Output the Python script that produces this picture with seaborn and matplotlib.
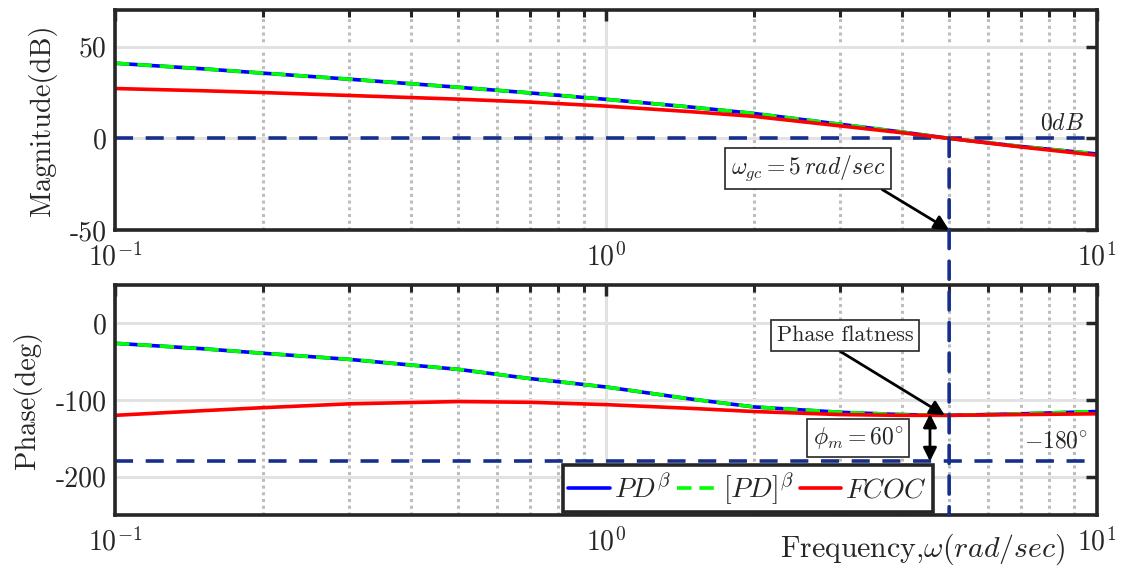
import matplotlib
matplotlib.use("Agg")
import matplotlib.pyplot as plt
from matplotlib.patches import ConnectionPatch
import seaborn as sns
import numpy as np

# ---------------- data ----------------
freq = [0.1, 0.15, 0.2, 0.3, 0.5, 0.7, 1.0, 1.5, 2.0, 3.0, 4.0, 5.0, 7.0, 10.0]

mag_pd = [41.0, 38.0, 35.6, 32.3, 27.9, 24.8, 21.3, 17.0, 13.6, 7.7, 3.5, 0.0, -4.4, -8.5]
mag_pdb = [41.0, 38.0, 35.6, 32.3, 27.9, 24.8, 21.3, 17.0, 13.6, 7.7, 3.5, 0.0, -4.4, -8.5]
mag_fcoc = [27.2, 26.0, 25.0, 23.4, 21.4, 19.8, 17.6, 14.5, 12.0, 6.8, 3.1, 0.0, -4.7, -9.2]

phase_pd = [-26, -33, -39, -47, -60, -72, -83, -99, -109, -116, -119, -120, -118, -115]
phase_pdb = [-26, -33, -39, -47, -60, -72, -83, -99, -109, -116, -119, -120, -118, -115]
phase_fcoc = [-120, -114, -110, -105, -102, -103, -106, -111, -115, -119, -120, -120, -119, -118]

series_labels = [r'$PD^{\beta}$', r'$[PD]^{\beta}$', r'$FCOC$']
series_colors = ['#0000ff', '#00ff00', '#ff0000']

mag_ticks = [-50, 0, 50]
mag_ticklabels = ['-50', '0', '50']
phase_ticks = [-200, -100, 0]
phase_ticklabels = ['-200', '-100', '0']
x_ticks = [0.1, 1, 10]
x_ticklabels = [r'$10^{-1}$', r'$10^{0}$', r'$10^{1}$']

w_gc = 5.0
pm_level = -180

# ---------------- style ----------------
sns.set_theme(style="white")
plt.rcParams['font.family'] = ['cmr10', 'DejaVu Serif']
plt.rcParams['mathtext.fontset'] = 'cm'
plt.rcParams['axes.unicode_minus'] = False
plt.rcParams['axes.formatter.use_mathtext'] = True

navy = '#172f8c'
spine_c = '#262626'

fig = plt.figure(figsize=(11.23, 5.68), dpi=100)
ax1 = fig.add_axes([0.1024, 0.595, 0.8744, 0.3873])
ax2 = fig.add_axes([0.1024, 0.0933, 0.8744, 0.4049])


def draw(ax, ys):
    for y, c, lab, i in zip(ys, series_colors, series_labels, range(3)):
        sns.lineplot(x=freq, y=y, ax=ax, color=c, lw=2.6, label=lab,
                     sort=True, legend=False, zorder=5 + (1 if i == 1 else 0))
        ln = ax.get_lines()[-1]
        if i == 1:
            ln.set_linestyle((0, (4, 2.2)))
            ln.set_zorder(6)
        if i == 2:
            ln.set_zorder(7)


draw(ax1, [mag_pd, mag_pdb, mag_fcoc])
draw(ax2, [phase_pd, phase_pdb, phase_fcoc])

for ax, yl, yt, ytl in [(ax1, (-50, 70), mag_ticks, mag_ticklabels),
                        (ax2, (-250, 50), phase_ticks, phase_ticklabels)]:
    ax.set_xscale('log')
    ax.set_xlim(0.1, 10)
    ax.set_ylim(*yl)
    ax.set_yticks(yt)
    ax.set_yticklabels(ytl)
    ax.set_xticks(x_ticks)
    ax.set_xticklabels(x_ticklabels)
    ax.xaxis.set_minor_locator(matplotlib.ticker.LogLocator(base=10, subs=np.arange(2, 10)))
    ax.xaxis.set_minor_formatter(matplotlib.ticker.NullFormatter())
    ax.set_axisbelow(True)
    ax.grid(which='major', axis='both', color='#e2e2e2', lw=2.2, ls='-')
    ax.grid(which='minor', axis='x', color='#bdbdbd', lw=2.2, ls=(0, (1, 1.2)))
    ax.tick_params(which='major', direction='in', top=True, right=True, length=8,
                   width=2.5, color=spine_c, labelsize=20, pad=6, labelcolor='#262626')
    ax.tick_params(which='minor', direction='in', top=True, right=True, length=5,
                   width=2.2, color=spine_c)
    ax.tick_params(axis='x', which='major', pad=9)
    for s in ax.spines.values():
        s.set_color(spine_c)
        s.set_linewidth(2.6)
        s.set_visible(True)
        s.set_zorder(10)
    ax.set_facecolor('white')

ax1.set_ylabel('Magnitude(dB)', fontsize=20.5, color='#262626')
ax2.set_ylabel('Phase(deg)', fontsize=20.5, color='#262626')
ax1.yaxis.set_label_coords(-0.059, 0.5)
ax2.yaxis.set_label_coords(-0.074, 0.5)
ax1.set_xlabel('')
ax2.set_xlabel(r'Frequency,$\omega(rad/sec)$', fontsize=21.5, color='#262626')
ax2.xaxis.set_label_coords(0.968, -0.072)
ax2.xaxis.label.set_ha('right')

# reference dashed lines
ax1.axhline(0, color=navy, lw=2.6, ls=(0, (5, 3.5)), zorder=4)
ax2.axhline(pm_level, color=navy, lw=2.6, ls=(0, (5, 3.5)), zorder=4)
con = ConnectionPatch(xyA=(w_gc, 0), coordsA=ax1.transData,
                      xyB=(w_gc, -250), coordsB=ax2.transData,
                      color=navy, lw=2.6, ls=(0, (5, 3.5)), zorder=3)
fig.add_artist(con)

# texts
ax1.text(9.4, 8.0, r'$0dB$', fontsize=17, ha='right', va='center', color='#262626')
ax2.text(9.6, -154, r'$-180^{\circ}$', fontsize=17, ha='right', va='center', color='#262626')

box = dict(boxstyle='square,pad=0.25', fc='white', ec='#262626', lw=1.2)
ax1.annotate(r'$\omega_{gc} = 5\,rad/sec$', xy=(w_gc, -50), xytext=(2.58, -16.3),
             fontsize=17, ha='center', va='center', bbox=box, zorder=12,
             arrowprops=dict(arrowstyle='-|>', lw=2, color='black', mutation_scale=22,
                             relpos=(0.91, 0), shrinkA=0, shrinkB=0))
ax2.annotate('Phase flatness', xy=(4.9, -120), xytext=(3.07, -15.8),
             fontsize=16, ha='center', va='center', bbox=box, zorder=12,
             arrowprops=dict(arrowstyle='-|>', lw=2, color='black', mutation_scale=22,
                             relpos=(0.39, 0), shrinkA=0, shrinkB=0))
ax2.text(3.26, -150, r'$\phi_m = 60^{\circ}$', fontsize=17, ha='center', va='center',
         bbox=box, zorder=12)
ax2.annotate('', xy=(4.57, -118), xytext=(4.57, -180),
             arrowprops=dict(arrowstyle='<|-|>', lw=2, color='black', mutation_scale=20,
                             shrinkA=0, shrinkB=0), zorder=12)

# legend
handles = ax2.get_lines()[:3]
leg = ax2.legend(handles, series_labels, loc='lower left', bbox_to_anchor=(0.456, 0.012),
                 ncol=3, fontsize=20, handlelength=1.5, handletextpad=0.15,
                 columnspacing=0.2, borderpad=0.2, borderaxespad=0, frameon=True,
                 fancybox=False, framealpha=1)
leg.get_frame().set_edgecolor('#262626')
leg.get_frame().set_linewidth(2.6)
leg.set_zorder(20)
if ax1.get_legend() is not None:
    ax1.get_legend().remove()

fig.savefig('out.png', dpi=100)
